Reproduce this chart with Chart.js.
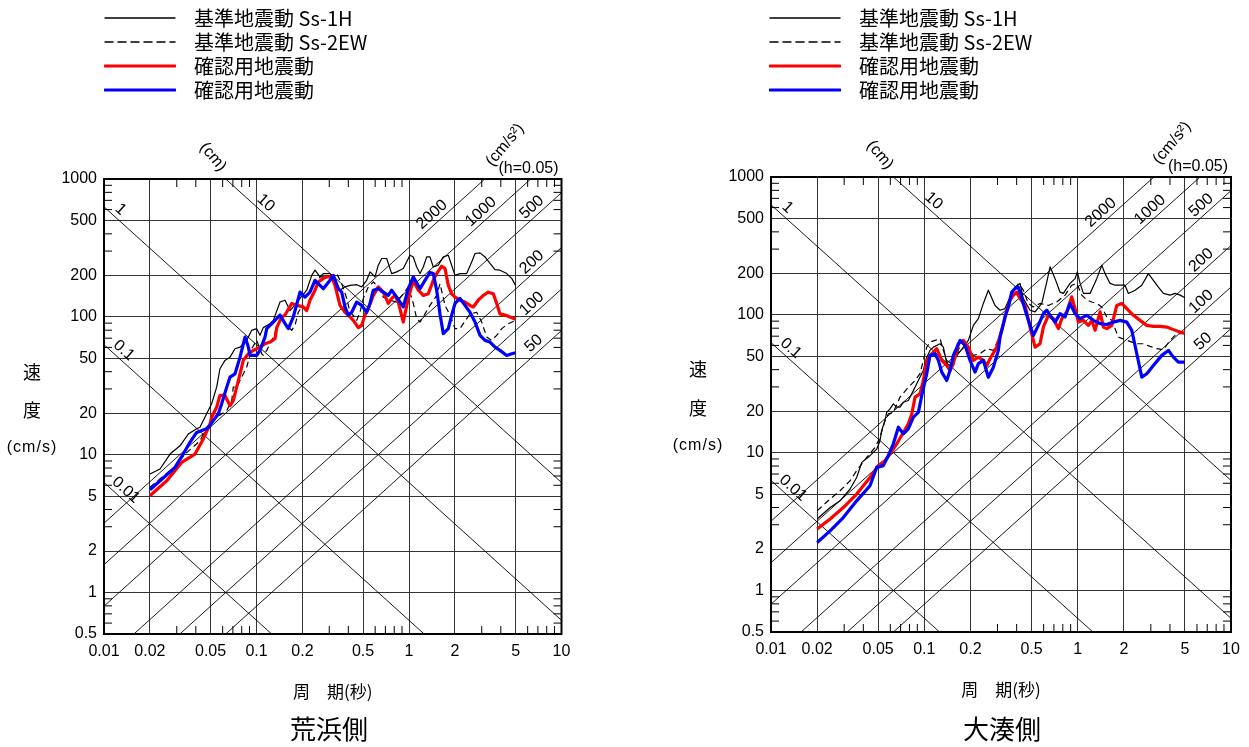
<!DOCTYPE html>
<html>
<head>
<meta charset="utf-8">
<script src="https://cdn.jsdelivr.net/npm/chart.js@4.4.1/dist/chart.umd.min.js"></script>
<style>
  body { margin: 0; background: #fff; width: 1249px; height: 747px; position: relative; overflow: hidden; font-family: "Noto Sans CJK JP", sans-serif; color: #000; }
  canvas { position: absolute; top: 0; }
  .legend { position: absolute; font-size: 20px; }
  .legend .row { display: flex; align-items: center; height: 24px; }
  .legend svg { margin-right: 18px; }
  .ytitle { position: absolute; width: 60px; text-align: center; font-size: 18px; line-height: 20px; }
  .ytitle.unit { font-family: "Liberation Sans", Arial, sans-serif; font-size: 16px; letter-spacing: 1px; }
  .site { position: absolute; width: 200px; text-align: center; font-size: 26px; line-height: 32px; top: 712px; }
</style>
</head>
<body>
<canvas id="arahama" width="624" height="747" style="left:0px"></canvas>
<canvas id="ominato" width="625" height="747" style="left:624px"></canvas>

<div class="legend" id="legendL" style="left:104px; top:5px"></div>
<div class="legend" id="legendR" style="left:769px; top:5px"></div>

<div class="ytitle" style="left:2px; top:361px">速</div>
<div class="ytitle" style="left:2px; top:399px">度</div>
<div class="ytitle unit" style="left:2px; top:437px">(cm/s)</div>
<div class="ytitle" style="left:668px; top:358px">速</div>
<div class="ytitle" style="left:668px; top:397px">度</div>
<div class="ytitle unit" style="left:668px; top:435px">(cm/s)</div>

<div class="site" id="siteL" style="left:229px"></div>
<div class="site" id="siteR" style="left:902px"></div>

<script>
// axes
const periodTicks = [0.01, 0.02, 0.05, 0.1, 0.2, 0.5, 1, 2, 5, 10];
const velocityTicks = [0.5, 1, 2, 5, 10, 20, 50, 100, 200, 500, 1000];
// tripartite guide lines: displacement (cm) and acceleration (cm/s2)
const dispLines = [0.01, 0.1, 1, 10];
const accLines = [50, 100, 200, 500, 1000, 2000];

const seriesNames = ["基準地震動 Ss-1H", "基準地震動 Ss-2EW", "確認用地震動", "確認用地震動"];
const siteNames = ["荒浜側", "大湊側"];

// 荒浜側
const arahamaSs1H_T = [0.02,0.0233,0.0271,0.0315,0.0357,0.0405,0.0426,0.0471,0.0508,0.0548,0.0576,0.0621,0.067,0.0723,0.078,0.0862,0.093,0.1003,0.1054,0.1108,0.1226,0.1289,0.1426,0.1538,0.1658,0.1743,0.1929,0.2134,0.2301,0.2419,0.2609,0.2742,0.3034,0.3189,0.3528,0.3805,0.4103,0.454,0.4896,0.528,0.5551,0.5984,0.6289,0.6622,0.7141,0.7702,0.8305,0.9175,1.015,1.067,1.123,1.181,1.241,1.306,1.373,1.443,1.556,1.679,1.81,2.003,2.16,2.39,2.577,2.709,2.922,3.151,3.397,3.664,3.951,4.372,4.715,5.0];
const arahamaSs1H_V = [7.24,7.87,10.1,11.6,14.1,15.4,15.8,19.8,23.4,30.9,42.0,48.3,51.0,58.7,60.3,67.5,79.8,82.1,73.4,83.5,89.2,94.3,128,132,111,118,136,156,200,218,195,206,206,195,156,165,169,171,165,184,212,195,237,265,265,206,212,224,280,272,230,206,230,272,272,230,237,272,280,200,206,206,250,288,291,272,244,220,218,206,190,169];

const arahamaSs2EW_T = [0.02,0.0292,0.034,0.0426,0.0471,0.0548,0.0638,0.0688,0.0704,0.0742,0.08,0.0862,0.093,0.1003,0.1082,0.1108,0.1167,0.1226,0.1289,0.1426,0.15,0.1578,0.1702,0.1789,0.188,0.1979,0.2134,0.2243,0.2419,0.2609,0.2887,0.3189,0.3357,0.362,0.3904,0.4103,0.4425,0.454,0.4772,0.5015,0.541,0.5833,0.6289,0.6784,0.7506,0.8305,0.9175,0.9895,1.067,1.123,1.181,1.273,1.373,1.519,1.597,1.722,1.858,2.003,2.16,2.27,2.512,2.779,2.998,3.232,3.485,3.759,4.054,4.479,5.0];
const arahamaSs2EW_V = [5.8,8.2,10.1,12.6,15.8,18.7,20.9,24.7,30.9,30.9,36.5,43.1,58.7,67.5,54.0,52.5,57.1,63.8,71.3,94.3,97,86.8,79.8,86.8,108,118,111,136,156,195,195,200,206,174,136,108,99.7,94.3,108,136,165,179,165,139,132,128,147,165,125,97,91.7,105,121,143,174,121,103,82.1,82.1,89.2,105,108,91.7,71.3,67.5,73.4,82.1,89.2,94.3];

const arahamaRed_T = [0.02,0.0258,0.0323,0.0395,0.0448,0.0496,0.0508,0.0548,0.0576,0.0621,0.067,0.0704,0.076,0.0819,0.0884,0.0953,0.1054,0.1137,0.1226,0.1322,0.1357,0.1463,0.1538,0.1702,0.1835,0.2027,0.2134,0.2243,0.2419,0.2542,0.2742,0.2887,0.3112,0.3272,0.3528,0.3805,0.3999,0.4313,0.4651,0.4896,0.5146,0.541,0.5833,0.6289,0.6784,0.7316,0.7702,0.8095,0.8508,0.9175,0.9895,1.067,1.151,1.241,1.338,1.443,1.519,1.638,1.722,1.81,1.905,2.003,2.16,2.329,2.512,2.64,2.847,3.071,3.311,3.571,3.759,3.951,4.261,4.596,5.0];
const arahamaRed_V = [5.03,6.47,8.79,10.1,13.0,16.7,18.7,22.1,26.9,26.9,22.7,24.7,34.5,48.3,54.0,57.1,60.3,63.8,65.6,69.4,83.5,99.7,103,125,121,118,111,132,156,179,190,195,195,169,121,108,103,94.3,83.5,86.8,103,115,143,165,151,125,136,143,128,91.7,136,184,156,143,147,184,206,233,224,169,147,139,132,128,121,118,132,143,151,147,125,105,103,99.7,95.9];

const arahamaBlue_T = [0.02,0.0292,0.0331,0.0366,0.0405,0.0471,0.0496,0.0521,0.0562,0.0591,0.0638,0.067,0.0723,0.078,0.0841,0.0884,0.0907,0.1003,0.1054,0.1137,0.1167,0.1289,0.1426,0.1538,0.1617,0.1743,0.1929,0.208,0.2243,0.2419,0.2609,0.2742,0.3034,0.3189,0.3439,0.362,0.3805,0.3999,0.421,0.454,0.4896,0.528,0.5551,0.5833,0.6289,0.6784,0.7316,0.7702,0.8305,0.9175,0.9895,1.067,1.181,1.273,1.373,1.443,1.519,1.597,1.679,1.81,1.905,2.003,2.16,2.329,2.512,2.709,2.922,3.151,3.397,3.664,3.951,4.372,4.715,5.0];
const arahamaBlue_V = [5.57,8.08,10.1,12.3,14.5,15.4,16.3,17.7,19.8,23.4,30.9,36.5,38.6,51.0,71.3,60.3,52.5,52.5,57.1,71.3,82.1,91.7,103,89.2,82.1,99.7,151,139,151,184,169,160,184,200,160,151,118,103,108,128,121,108,125,156,160,151,143,156,139,118,160,195,160,184,210,206,156,105,75.5,82.1,103,125,136,121,108,91.7,73.4,67.5,65.6,60.3,57.1,52.5,54.0,54.9];

// 大湊側
const ominatoSs1H_T = [0.02,0.0243,0.0282,0.0328,0.0362,0.0391,0.0442,0.0489,0.0514,0.0527,0.0554,0.0568,0.0597,0.0628,0.0661,0.0694,0.073,0.0786,0.0848,0.0914,0.0985,0.1037,0.1089,0.1145,0.1266,0.1331,0.14,0.1471,0.1546,0.1667,0.1797,0.1936,0.2088,0.2251,0.2426,0.2615,0.2892,0.3118,0.3361,0.3622,0.3905,0.421,0.4424,0.4892,0.5273,0.5832,0.6286,0.6607,0.7121,0.7677,0.8066,0.892,0.9616,0.9954,1.037,1.09,1.205,1.332,1.436,1.509,1.627,1.754,2.038,2.141,2.369,2.619,2.892,3.117,3.361,3.622,4.006,4.319,4.656,5.0];
const ominatoSs1H_V = [3.30,4.00,4.47,5.45,6.61,8.50,9.51,10.6,12.2,14.5,17.1,19.6,20.8,22.6,21.4,21.4,23.2,23.9,28.2,33.4,39.5,49.3,55.2,58.3,61.7,58.3,44.2,42.9,46.7,52.2,58.3,65.3,83.9,93.8,121,151,117,108,111,135,159,169,131,108,105,121,173,223,183,146,143,169,183,205,169,143,143,183,229,199,169,164,164,143,151,164,199,178,159,143,139,143,139,133];

const ominatoSs2EW_T = [0.02,0.0243,0.0282,0.0328,0.0362,0.0421,0.0477,0.0514,0.0554,0.0582,0.0628,0.0694,0.0786,0.087,0.0937,0.0985,0.1037,0.1089,0.1175,0.1266,0.1331,0.14,0.1509,0.1627,0.1754,0.1891,0.2088,0.2309,0.2553,0.2819,0.3118,0.3448,0.3807,0.4104,0.4424,0.4769,0.514,0.5684,0.644,0.7306,0.8275,0.915,0.9865,1.063,1.147,1.236,1.332,1.436,1.548,1.669,1.843,2.091,2.43,2.683,2.967,3.281,3.622,4.006,4.319,4.656,5.0];
const ominatoSs2EW_V = [3.79,4.61,5.29,6.26,7.40,9.24,10.9,12.9,17.1,19.1,19.6,25.3,29.8,33.4,37.4,46.7,58.3,63.4,65.3,67.1,55.2,46.7,44.2,50.8,65.3,58.3,50.8,52.2,56.8,55.2,70.9,108,143,169,151,121,114,121,117,124,139,164,169,139,128,124,121,114,96.4,91.2,68.9,65.3,61.7,61.7,59.0,56.8,55.8,65.3,70.9,73.0,73.0];

const ominatoRed_T = [0.02,0.0243,0.0296,0.0362,0.0442,0.0501,0.0554,0.0597,0.0661,0.073,0.0786,0.0828,0.087,0.0937,0.0985,0.1037,0.1118,0.1205,0.1299,0.14,0.1471,0.1546,0.1667,0.1797,0.1936,0.2088,0.2251,0.2426,0.2553,0.2683,0.2967,0.3198,0.3448,0.3622,0.3807,0.4006,0.421,0.4539,0.4892,0.5273,0.5684,0.5973,0.644,0.6942,0.7483,0.7875,0.8489,0.915,0.9616,1.011,1.09,1.174,1.236,1.299,1.4,1.471,1.548,1.669,1.799,1.94,2.091,2.309,2.553,2.824,3.117,3.448,3.813,4.21,4.656,5.0];
const ominatoRed_V = [2.79,3.30,4.00,5.01,6.61,8.05,8.75,9.78,11.6,14.0,16.2,19.1,25.3,26.7,33.4,46.7,52.2,56.8,46.7,42.9,39.5,44.2,61.7,65.3,58.3,46.7,49.3,46.7,42.9,48.0,58.3,77.2,108,128,139,146,131,117,81.5,58.3,61.7,81.5,99.2,93.8,79.4,93.8,105,135,111,88.6,91.2,83.9,91.2,77.2,105,81.5,79.4,83.9,117,121,111,99.2,91.2,83.9,82.5,82.5,81.5,78.1,75.0,73.7];

const ominatoBlue_T = [0.02,0.0243,0.0296,0.0362,0.0442,0.0489,0.054,0.0582,0.0628,0.0677,0.073,0.0786,0.0848,0.0914,0.0962,0.1037,0.1089,0.1175,0.1234,0.1299,0.14,0.1471,0.1546,0.171,0.1843,0.1987,0.2142,0.2251,0.2426,0.2615,0.2819,0.3039,0.3118,0.3361,0.3531,0.3716,0.3905,0.4104,0.4319,0.4656,0.514,0.5541,0.5973,0.6286,0.6607,0.7121,0.7677,0.8275,0.892,0.9616,1.037,1.147,1.266,1.4,1.548,1.71,1.891,2.091,2.254,2.43,2.619,2.824,3.117,3.537,3.906,4.21,4.539,5.0];
const ominatoBlue_V = [2.23,2.71,3.38,4.47,5.75,7.82,8.05,9.51,11.6,15.3,13.7,14.9,18.1,19.6,26.0,37.4,50.8,52.2,46.7,38.4,33.4,39.5,50.8,65.3,60.0,46.7,38.4,44.2,46.7,35.3,41.7,55.2,68.9,96.4,114,146,155,159,131,99.2,70.9,83.9,102,108,99.2,88.6,102,96.4,121,102,93.8,99.2,91.2,86.3,85.1,88.6,91.2,88.6,77.2,52.2,35.3,37.4,42.9,50.8,55.2,49.3,45.4,45.4];

const seriesStyles = [
  { color: "#000000", width: 1.2, dash: [] },
  { color: "#000000", width: 1.2, dash: [6, 4] },
  { color: "#ff0000", width: 3.2, dash: [] },
  { color: "#0000ff", width: 3.2, dash: [] },
];

// where the guide line labels sit (period along the line)
const dispLabelAt = { 0.01: 0.0127, 0.1: 0.0123, 1: 0.0117, 10: 0.105 };
const accLabelAt = { 50: 7.2, 100: 7, 200: 7, 500: 7, 1000: 3.25, 2000: 1.55 };

const numFont = '"Liberation Sans", Arial, sans-serif';
const minorK = [3, 4, 6, 7, 8, 9];

const tripartite = {
  id: "tripartite",
  beforeDatasetsDraw(chart) {
    const { ctx, chartArea: a, scales: { x, y } } = chart;
    const px = (v) => x.getPixelForValue(v);
    const py = (v) => y.getPixelForValue(v);
    const TWO_PI = 2 * Math.PI;

    ctx.save();
    ctx.beginPath();
    ctx.rect(a.left, a.top, a.right - a.left, a.bottom - a.top);
    ctx.clip();
    ctx.strokeStyle = "#000";
    ctx.lineWidth = 0.9;
    dispLines.forEach((d) => {
      ctx.beginPath();
      ctx.moveTo(px(0.001), py(TWO_PI * d / 0.001));
      ctx.lineTo(px(100), py(TWO_PI * d / 100));
      ctx.stroke();
    });
    accLines.forEach((acc) => {
      ctx.beginPath();
      ctx.moveTo(px(0.001), py(acc * 0.001 / TWO_PI));
      ctx.lineTo(px(100), py(acc * 100 / TWO_PI));
      ctx.stroke();
    });

    // minor ticks on all four sides
    ctx.lineWidth = 1;
    for (let n = -2; n <= 0; n++) {
      minorK.forEach((k) => {
        const xp = px(k * Math.pow(10, n));
        ctx.beginPath();
        ctx.moveTo(xp, a.top); ctx.lineTo(xp, a.top + 8);
        ctx.moveTo(xp, a.bottom); ctx.lineTo(xp, a.bottom - 8);
        ctx.stroke();
      });
    }
    for (let n = -1; n <= 2; n++) {
      minorK.forEach((k) => {
        const v = k * Math.pow(10, n);
        if (v < 0.5 || v > 1000) return;
        const yp = py(v);
        ctx.beginPath();
        ctx.moveTo(a.left, yp); ctx.lineTo(a.left + 8, yp);
        ctx.moveTo(a.right, yp); ctx.lineTo(a.right - 8, yp);
        ctx.stroke();
      });
    }
    ctx.restore();

    // labels on the guide lines
    const label = (text, t, v, t2, v2) => {
      const x1 = px(t), y1 = py(v);
      const ang = Math.atan2(py(v2) - y1, px(t2) - x1);
      ctx.save();
      ctx.translate(x1, y1);
      ctx.rotate(ang);
      ctx.font = "16px " + numFont;
      ctx.fillStyle = "#000";
      ctx.textAlign = "center";
      ctx.textBaseline = "bottom";
      ctx.fillText(text, 0, -1);
      ctx.restore();
    };
    dispLines.forEach((d) => {
      const t = dispLabelAt[d];
      label(String(d), t, TWO_PI * d / t, t * 2, TWO_PI * d / (t * 2));
    });
    accLines.forEach((acc) => {
      const t = accLabelAt[acc];
      label(String(acc), t, acc * t / TWO_PI, t * 2, acc * t * 2 / TWO_PI);
    });
  },
  afterDraw(chart) {
    const { ctx, chartArea: a } = chart;
    ctx.save();
    ctx.strokeStyle = "#000";
    ctx.lineWidth = 2;
    ctx.strokeRect(a.left, a.top, a.right - a.left, a.bottom - a.top);

    ctx.fillStyle = "#000";
    ctx.font = "16px " + numFont;
    ctx.textAlign = "center";
    ctx.textBaseline = "middle";
    ctx.save();
    ctx.translate(a.left + 109, a.top - 22);
    ctx.rotate(Math.PI * 50 / 180);
    ctx.fillText("(cm)", 0, 0);
    ctx.restore();
    ctx.save();
    ctx.translate(a.left + 401, a.top - 34);
    ctx.rotate(-Math.PI * 50 / 180);
    ctx.fillText("(cm/s²)", 0, 0);
    ctx.restore();
    ctx.textAlign = "right";
    ctx.textBaseline = "alphabetic";
    ctx.fillText("(h=0.05)", a.right - 3, a.top - 6);
    ctx.restore();
  },
};

function makeChart(id, pad, periods, values) {
  const datasets = periods.map((T, i) => ({
    label: seriesNames[i],
    data: T.map((t, j) => ({ x: t, y: values[i][j] })),
    borderColor: seriesStyles[i].color,
    borderWidth: seriesStyles[i].width,
    borderDash: seriesStyles[i].dash,
    borderJoinStyle: "round",
    pointRadius: 0,
    tension: 0,
    fill: false,
    order: 4 - i,
  }));
  const tickFont = { family: numFont, size: 16 };
  return new Chart(document.getElementById(id), {
    type: "line",
    data: { datasets },
    options: {
      responsive: false,
      animation: false,
      events: [],
      layout: { padding: pad },
      plugins: { legend: { display: false }, tooltip: { enabled: false } },
      scales: {
        x: {
          type: "logarithmic",
          min: 0.01,
          max: 10,
          afterBuildTicks: (s) => { s.ticks = periodTicks.map((v) => ({ value: v })); },
          afterFit: (s) => { s.height = 70; },
          ticks: { autoSkip: false, maxRotation: 0, minRotation: 0, padding: 8, color: "#000", font: tickFont, callback: (v) => String(v) },
          grid: { color: "#333", lineWidth: 1, drawTicks: false },
          border: { display: false },
          title: { display: true, text: "周　期(秒)", color: "#000", font: { family: '"Noto Sans CJK JP"', size: 17 }, padding: { top: 0, bottom: 2 } },
        },
        y: {
          type: "logarithmic",
          min: 0.5,
          max: 1000,
          afterBuildTicks: (s) => { s.ticks = velocityTicks.map((v) => ({ value: v })); },
          afterFit: (s) => { s.width = 104; },
          ticks: { autoSkip: false, padding: 7, color: "#000", font: tickFont, callback: (v) => String(v) },
          grid: { color: "#333", lineWidth: 1, drawTicks: false },
          border: { display: false },
        },
      },
    },
    plugins: [tripartite],
  });
}

makeChart("arahama", { left: 0, right: 62.5, top: 179, bottom: 43 },
  [arahamaSs1H_T, arahamaSs2EW_T, arahamaRed_T, arahamaBlue_T],
  [arahamaSs1H_V, arahamaSs2EW_V, arahamaRed_V, arahamaBlue_V]);

makeChart("ominato", { left: 43, right: 18, top: 177, bottom: 45 },
  [ominatoSs1H_T, ominatoSs2EW_T, ominatoRed_T, ominatoBlue_T],
  [ominatoSs1H_V, ominatoSs2EW_V, ominatoRed_V, ominatoBlue_V]);

// legends
function buildLegend(id) {
  const box = document.getElementById(id);
  seriesNames.forEach((name, i) => {
    const st = seriesStyles[i];
    const row = document.createElement("div");
    row.className = "row";
    row.innerHTML =
      '<svg width="72" height="24"><line x1="1" y1="13" x2="71" y2="13" stroke="' + st.color +
      '" stroke-width="' + (st.width > 3 ? 3.2 : 1.5) + '"' +
      (st.dash.length ? ' stroke-dasharray="8 5"' : "") + ' stroke-linecap="round"/></svg><span>' + name + "</span>";
    box.appendChild(row);
  });
}
buildLegend("legendL");
buildLegend("legendR");
document.getElementById("siteL").textContent = siteNames[0];
document.getElementById("siteR").textContent = siteNames[1];
</script>
</body>
</html>
